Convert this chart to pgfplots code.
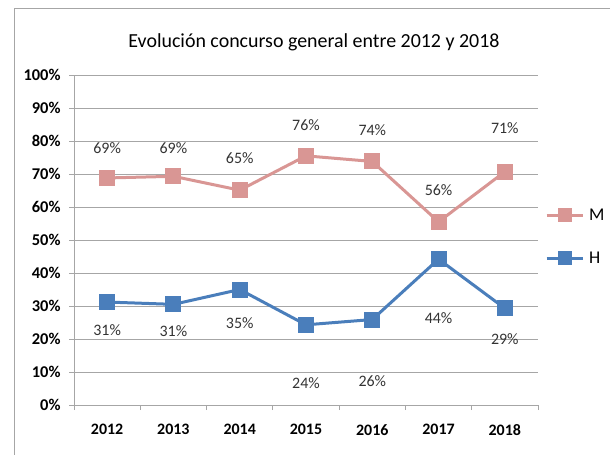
\documentclass[border=0pt]{standalone}
\usepackage{fontspec}
\setmainfont{Carlito}
\usepackage{pgfplots}
\pgfplotsset{compat=1.18}
\definecolor{mcol}{HTML}{D99694}
\definecolor{hcol}{HTML}{4A7EBB}
\definecolor{gridc}{HTML}{A6A6A6}
\begin{document}
\begin{tikzpicture}
\useasboundingbox (0,0) rectangle (610bp,-455bp);
\draw[gridc, line width=1bp] (14bp,-455bp) -- (14bp,-8bp) -- (610bp,-8bp);
\node[font=\fontsize{20}{24}\selectfont] at (314bp,-42bp) {Evolución concurso general entre 2012 y 2018};
\begin{axis}[
  at={(74bp,-405bp)}, anchor=south west,
  scale only axis, width=464bp, height=330bp,
  xmin=2011.5, xmax=2018.5, ymin=0, ymax=100,
  axis x line=bottom, axis y line=left,
  axis line style={gridc, line width=0.8bp, -},
  xtick={2012,...,2018},
  xticklabel style={/pgf/number format/1000 sep=, font=\bfseries\fontsize{16}{19}\selectfont, yshift=-11bp},
  /pgf/number format/assume math mode=true,
  major x tick style={draw=none},
  minor xtick={2011.5,2012.5,...,2018.5},
  minor tick length=5bp,
  minor x tick style={gridc, line width=0.8bp},
  ytick={0,10,...,100},
  yticklabel={\pgfmathprintnumber{\tick}\%},
  yticklabel style={font=\bfseries\fontsize{16.5}{19}\selectfont, xshift=-5bp},
  major tick length=5bp,
  tick align=outside,
  y tick style={gridc, line width=0.8bp},
  ymajorgrids, grid style={gridc, line width=0.8bp},
  legend image code/.code={
    \draw[#1, mark=none] (0bp,0bp) -- (36bp,0bp);
    \draw[#1, mark size=5.5bp] plot coordinates {(18bp,0bp)};
  },
  legend style={at={(1.015,0.51)}, anchor=west, draw=none, fill=none,
    font=\fontsize{18}{21}\selectfont, row sep=26bp, inner sep=0pt,
    /tikz/every odd column/.append style={column sep=3bp}},
  legend cell align=left,
  clip=false,
]
\addplot[mcol, line width=3bp, mark=square*, mark size=6.5bp, mark options={solid}]
  coordinates {(2012,68.8) (2013,69.3) (2014,65.1) (2015,75.5) (2016,73.8) (2017,55.5) (2018,70.7)};
\addlegendentry{M}
\addplot[hcol, line width=3bp, mark=square*, mark size=6.5bp, mark options={solid}]
  coordinates {(2012,31.2) (2013,30.5) (2014,35.0) (2015,24.3) (2016,25.9) (2017,44.2) (2018,29.3)};
\addlegendentry{H}
\begin{scope}[every node/.style={font=\fontsize{16}{19}\selectfont, text=black!80}]
\node at (axis cs:2012,77.9) {69\%};
\node at (axis cs:2013,77.9) {69\%};
\node at (axis cs:2014,74.8) {65\%};
\node at (axis cs:2015,84.8) {76\%};
\node at (axis cs:2016,83.3) {74\%};
\node at (axis cs:2017,65.2) {56\%};
\node at (axis cs:2018,83.9) {71\%};
\node at (axis cs:2012,22.7) {31\%};
\node at (axis cs:2013,22.4) {31\%};
\node at (axis cs:2014,24.8) {35\%};
\node at (axis cs:2015,6.7) {24\%};
\node at (axis cs:2016,7.3) {26\%};
\node at (axis cs:2017,26.4) {44\%};
\node at (axis cs:2018,20.0) {29\%};
\end{scope}
\end{axis}
\end{tikzpicture}
\end{document}
